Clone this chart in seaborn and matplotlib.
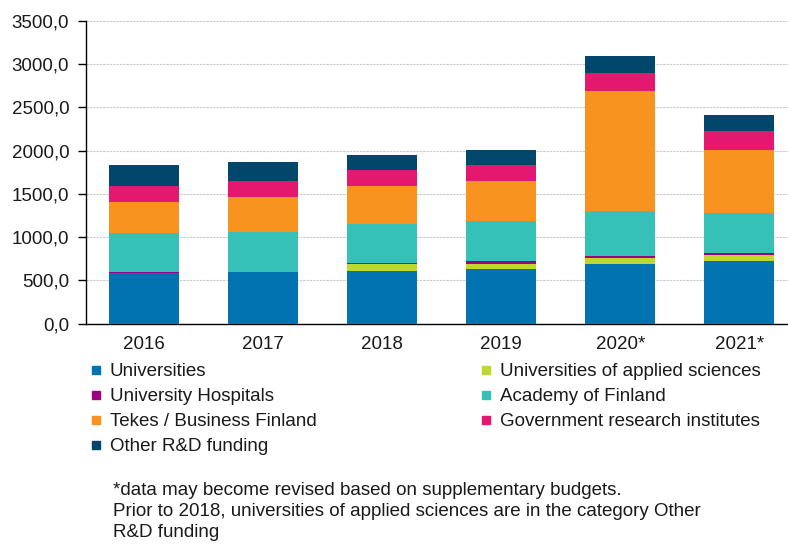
import matplotlib
matplotlib.use("Agg")
import matplotlib.pyplot as plt
import seaborn as sns
import pandas as pd
import numpy as np
from matplotlib.lines import Line2D
from matplotlib.ticker import FuncFormatter, MultipleLocator

years = ["2016", "2017", "2018", "2019", "2020*", "2021*"]
universities = [585, 594, 613, 632, 687, 721]
uas = [0, 0, 74, 55, 76, 77]
hospitals = [15, 0, 18, 38, 23, 23]
academy = [445, 469, 448, 466, 517, 462]
tekes = [365, 405, 442, 459, 1391, 721]
government = [185, 182, 185, 188, 200, 224]
other = [243, 223, 167, 166, 204, 185]

series_names = ["Universities", "Universities of applied sciences", "University Hospitals",
                "Academy of Finland", "Tekes / Business Finland",
                "Government research institutes", "Other R&D funding"]
series_vals = [universities, uas, hospitals, academy, tekes, government, other]
colors = ["#0073b0", "#bfd730", "#a0007f", "#35c0b8", "#f7931e", "#e5186f", "#00476b"]

sns.set_style("white")
plt.rcParams['font.family'] = ['Liberation Sans', 'DejaVu Sans']
FS = 13.5

df = pd.DataFrame({"year": years})
cum = np.zeros(len(years))
for name, vals in zip(series_names, series_vals):
    cum = cum + np.array(vals, dtype=float)
    df[name] = cum

fig = plt.figure(figsize=(7.88, 5.44), dpi=100)
ax = fig.add_axes([86/788, 1 - 323.7/544, 1 - 86/788, (323.7 - 21)/544])

for name, c in reversed(list(zip(series_names, colors))):
    sns.barplot(data=df, x="year", y=name, order=years, color=c, width=0.59,
                linewidth=0, ax=ax, saturation=1, zorder=3)

ax.set_xlim(-0.49, 5.41)
ax.set_ylim(0, 3500)
ax.yaxis.set_major_locator(MultipleLocator(500))
ax.yaxis.set_major_formatter(FuncFormatter(lambda v, p: f"{v:.1f}".replace(".", ",")))
ax.set_xlabel("")
ax.set_ylabel("")
ax.grid(axis="y", color="#c8c8c8", linestyle=(0, (2, 1)), linewidth=0.8, zorder=0)
ax.set_axisbelow(True)
for s in ["top", "right"]:
    ax.spines[s].set_visible(False)
ax.spines["left"].set_color("black")
ax.spines["bottom"].set_color("black")
ax.spines["left"].set_linewidth(1.0)
ax.spines["bottom"].set_linewidth(1.0)
ax.tick_params(axis="y", length=6, width=1, color="black", labelsize=FS, pad=6, left=True)
ax.tick_params(axis="x", length=0, labelsize=FS, pad=9)
for t in ax.get_xticklabels() + ax.get_yticklabels():
    t.set_color("#1a1a1a")

def handle(c):
    return Line2D([], [], marker="s", linestyle="none", markersize=6,
                  markerfacecolor=c, markeredgecolor=c)

col1 = [0, 2, 4, 6]
col2 = [1, 3, 5]
for idxs, xpx in [(col1, 88), (col2, 478)]:
    leg = fig.legend([handle(colors[i]) for i in idxs], [series_names[i] for i in idxs],
                     loc="upper left", bbox_to_anchor=(xpx/788, 1 - 363/544),
                     frameon=False, fontsize=FS, handlelength=0.8, handletextpad=0.35,
                     borderpad=0, borderaxespad=0, labelspacing=0.42)
    for t in leg.get_texts():
        t.set_color("#1a1a1a")

fig.text(113/788, 1 - 482/544,
         "*data may become revised based on supplementary budgets.\n"
         "Prior to 2018, universities of applied sciences are in the category Other\n"
         "R&D funding",
         ha="left", va="top", fontsize=FS, color="#1a1a1a", linespacing=1.3)

fig.savefig("out.png", dpi=100)
